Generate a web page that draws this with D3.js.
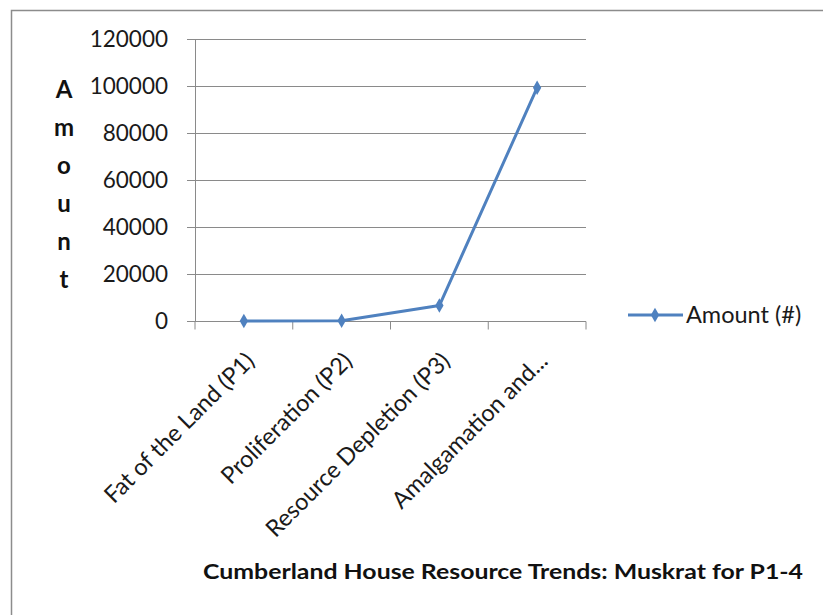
<!DOCTYPE html>
<html><head><meta charset="utf-8">
<script src="https://cdn.jsdelivr.net/npm/d3@7"></script>
<style>body{margin:0;background:#fff;} svg{display:block;}</style>
</head><body>
<svg id="c" width="823" height="615"></svg>
<script>
const categories = ["Fat of the Land (P1)", "Proliferation (P2)", "Resource Depletion (P3)", "Amalgamation and..."];
const amounts = [200, 300, 6800, 99500];
const yTicks = [0, 20000, 40000, 60000, 80000, 100000, 120000];
const seriesName = "Amount (#)";
const yTitle = "Amount";
const chartTitle = "Cumberland House Resource Trends: Muskrat for P1-4";

const svg = d3.select("#c");
const font = "Lato, 'Open Sans', sans-serif";
const gridColor = "#8a8a8a";
const lineColor = "#4f81bf";

svg.append("rect").attr("x", 11.5).attr("y", 10.5).attr("width", 840).attr("height", 640)
  .attr("fill", "#fff").attr("stroke", "#8c8c8c").attr("stroke-width", 1.5);

const x = d3.scaleBand().domain(categories).range([195, 586]);
const y = d3.scaleLinear().domain([0, 120000]).range([321.5, 39.5]);

// gridlines
svg.append("g").selectAll("line").data(yTicks).join("line")
  .attr("x1", 187).attr("x2", 586)
  .attr("y1", d => y(d)).attr("y2", d => y(d))
  .attr("stroke", gridColor).attr("stroke-width", 1);

// y axis
const yAxis = d3.axisLeft(y).tickValues(yTicks).tickSize(0).tickPadding(27).tickFormat(d3.format("d"));
const gy = svg.append("g").attr("transform", "translate(195,0)").call(yAxis);
gy.select(".domain").attr("stroke", gridColor);
gy.selectAll("text").attr("font-family", font).attr("font-size", 22.5).attr("fill", "#1a1a1a");

// x axis
const xAxis = d3.axisBottom(x).tickSize(0).tickFormat("");
const gx = svg.append("g").attr("transform", `translate(0,${y(0)})`).call(xAxis);
gx.select(".domain").attr("stroke", gridColor).attr("d", `M195,0H586`);
const bounds = [195].concat(categories.map(c => x(c) + x.bandwidth()));
gx.selectAll(".bt").data(bounds).join("line").attr("class", "bt")
  .attr("x1", d => d).attr("x2", d => d).attr("y1", 0).attr("y2", 8)
  .attr("stroke", gridColor);

// x labels rotated
svg.append("g").selectAll("text").data(categories).join("text")
  .attr("transform", d => `translate(${x(d) + x.bandwidth()/2 + 12},${y(0) + 41}) rotate(-45)`)
  .attr("text-anchor", "end")
  .attr("font-family", font).attr("font-size", 23.5).attr("fill", "#1a1a1a")
  .text(d => d);

// line
const cx = d => x(d) + x.bandwidth()/2;
const line = d3.line().x((d, i) => cx(categories[i])).y(d => y(d));
svg.append("path").datum(amounts).attr("d", line)
  .attr("fill", "none").attr("stroke", lineColor).attr("stroke-width", 3).attr("stroke-linejoin", "round");
const diamond = d3.symbol().type(d3.symbolDiamond).size(60);
svg.append("g").selectAll("path").data(amounts).join("path")
  .attr("transform", (d, i) => `translate(${cx(categories[i])},${y(d)})`)
  .attr("d", diamond).attr("fill", lineColor);

// y title stacked letters
svg.append("g").selectAll("text").data(yTitle.split("")).join("text")
  .attr("x", 64).attr("y", (d, i) => 98 + i * 38)
  .attr("text-anchor", "middle").attr("font-family", font).attr("font-weight", "bold")
  .attr("font-size", 24).attr("fill", "#111").text(d => d);

// legend
const lg = svg.append("g");
lg.append("line").attr("x1", 628).attr("x2", 683).attr("y1", 315).attr("y2", 315)
  .attr("stroke", lineColor).attr("stroke-width", 3);
lg.append("path").attr("transform", "translate(655,315)").attr("d", diamond).attr("fill", lineColor);
lg.append("text").attr("x", 686).attr("y", 323).attr("font-family", font).attr("font-size", 23.5)
  .attr("fill", "#1a1a1a").text(seriesName);

// title
svg.append("text").attr("x", 203).attr("y", 579).attr("font-family", font).attr("font-weight", "bold")
  .attr("font-size", 21.5).attr("fill", "#111").attr("textLength", 600).attr("lengthAdjust", "spacingAndGlyphs")
  .text(chartTitle);
</script>
</body></html>
